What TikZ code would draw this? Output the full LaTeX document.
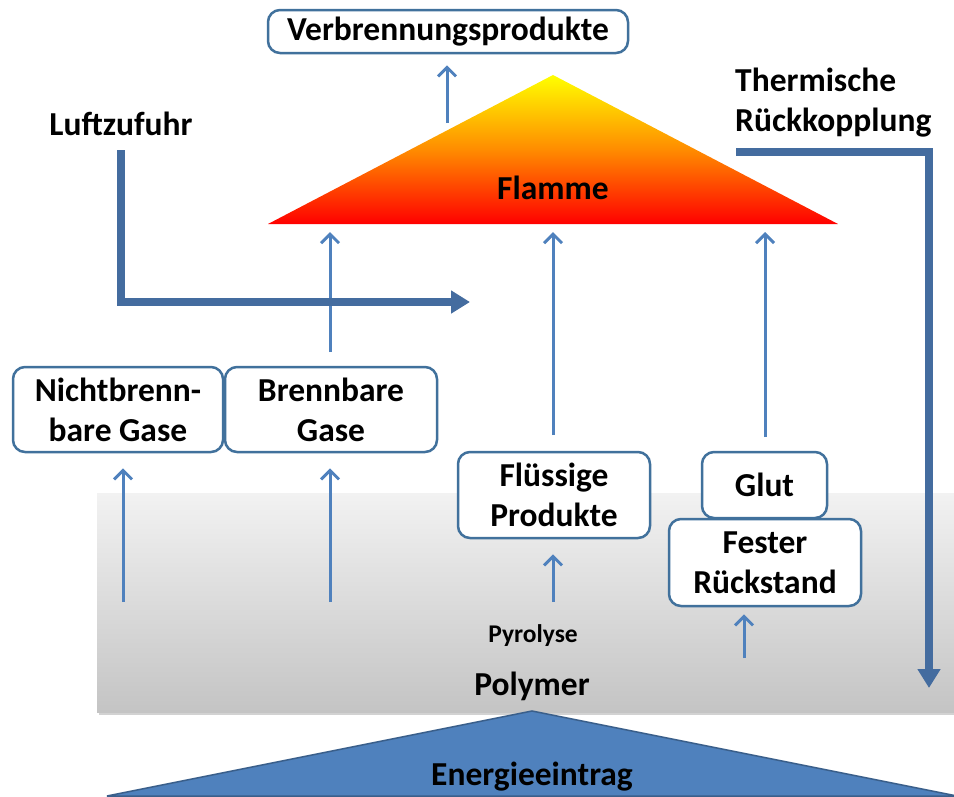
\documentclass[tikz,border=0pt]{standalone}
\usepackage{fontspec}
\setmainfont{Carlito}
\usetikzlibrary{arrows.meta}
\definecolor{boxblue}{HTML}{41719C}
\definecolor{arrblue}{HTML}{4F81BD}
\definecolor{bigblue}{HTML}{446C9F}
\definecolor{energyfill}{HTML}{4F81BD}
\definecolor{energyedge}{HTML}{3A5F8B}
\definecolor{bandtop}{HTML}{F2F2F2}
\definecolor{bandbot}{HTML}{C4C4C4}
\definecolor{flameY}{HTML}{FFFF00}
\definecolor{flameO}{HTML}{FF8C00}
\definecolor{flameR}{HTML}{FF0000}
\begin{document}
\begin{tikzpicture}[x=1pt,y=-1pt,
  box/.style={draw=boxblue, line width=2.5pt, rounded corners=12pt, fill=white,
    align=center, font=\bfseries\fontsize{33.5}{40}\selectfont, inner sep=0pt},
  flowarrow/.style={draw=arrblue, line width=3pt,
    -{Straight Barb[length=9pt,width=18pt,line width=3pt]}},
  bigarrow/.style={draw=bigblue, line width=8pt,
    -{Triangle[length=19pt,width=22pt]}},
  lbl/.style={font=\bfseries\fontsize{33.5}{40}\selectfont, inner sep=0pt},
  smalllbl/.style={font=\bfseries\fontsize{25.5}{30}\selectfont, inner sep=0pt}
]
\useasboundingbox (0,0) rectangle (954,796);
\clip (0,0) rectangle (954,796);

% gray band (polymer)
\fill[black!35, opacity=0.5] (99,496) rectangle (960,715);
\shade[top color=bandtop, bottom color=bandbot] (97,493) rectangle (960,712);

% flame
\coordinate (flameT) at (553,75);
\coordinate (flameL) at (268,224);
\coordinate (flameR) at (838,224);
\shade[top color=flameY, bottom color=flameR, middle color=flameO]
  (flameT) -- (flameR) -- (flameL) -- cycle;
\node[lbl] (flamme) at (553,188) {Flamme};

% boxes
\node[box, minimum width=360pt, minimum height=43pt] (verb) at (448,31.5) {Verbrennungsprodukte};
\node[box, minimum width=210pt, minimum height=85pt] (nicht) at (118,409.5) {Nichtbrenn-\\bare Gase};
\node[box, minimum width=212pt, minimum height=85pt] (brenn) at (331,409.5) {Brennbare\\Gase};
\node[box, minimum width=192pt, minimum height=86pt] (fluess) at (554,495) {Flüssige\\Produkte};
\node[box, minimum width=125pt, minimum height=66pt] (glut) at (764.5,485) {Glut};
\node[box, minimum width=192pt, minimum height=87pt] (fester) at (765,562.5) {Fester\\Rückstand};

% labels
\node[lbl] (luft) at (121,124) {Luftzufuhr};
\node[lbl, anchor=west, align=left] (thermo) at (735,103) {Thermische\\Rückkopplung};
\node[smalllbl] (pyro) at (533,636) {Pyrolyse};
\node[lbl] (poly) at (532,686) {Polymer};

% connector end points
\coordinate (vUp) at (447,123);
\coordinate (bSrc) at (330,352);
\coordinate (fSrc) at (553,435);
\coordinate (gSrc) at (765,437);
\coordinate (nLow) at (123,602);
\coordinate (bLow) at (330,602);
\coordinate (fLow) at (553,602);
\coordinate (rLow) at (744,658);
\coordinate (luftStart) at (121,150);
\coordinate (luftEnd) at (470,302);
\coordinate (thStart) at (736,152);
\coordinate (thEnd) at (929,688);

% thin arrows
\draw[flowarrow, shorten >=11pt] (vUp) -- (vUp |- verb.south);
\draw[flowarrow, shorten >=8pt] (bSrc) -- (bSrc |- flameL);
\draw[flowarrow, shorten >=8pt] (fSrc) -- (fSrc |- flameL);
\draw[flowarrow, shorten >=8pt] (gSrc) -- (gSrc |- flameL);
\draw[flowarrow, shorten >=15pt] (nLow) -- (nLow |- nicht.south);
\draw[flowarrow, shorten >=15pt] (bLow) -- (bLow |- brenn.south);
\draw[flowarrow, shorten >=15pt] (fLow) -- (fLow |- fluess.south);
\draw[flowarrow, shorten >=7pt] (rLow) -- (rLow |- fester.south);

% thick arrows
\draw[bigarrow] (luftStart) |- (luftEnd);
\draw[bigarrow] (thStart) -| (thEnd);

% energy input
\coordinate (eTop) at (532,711);
\coordinate (eL) at (107,796);
\coordinate (eR) at (957,796);
\filldraw[fill=energyfill, draw=energyedge, line width=1.5pt] (eTop) -- (eR) -- (eL) -- cycle;
\node[lbl] (energie) at (532,777) {Energieeintrag};
\end{tikzpicture}
\end{document}
